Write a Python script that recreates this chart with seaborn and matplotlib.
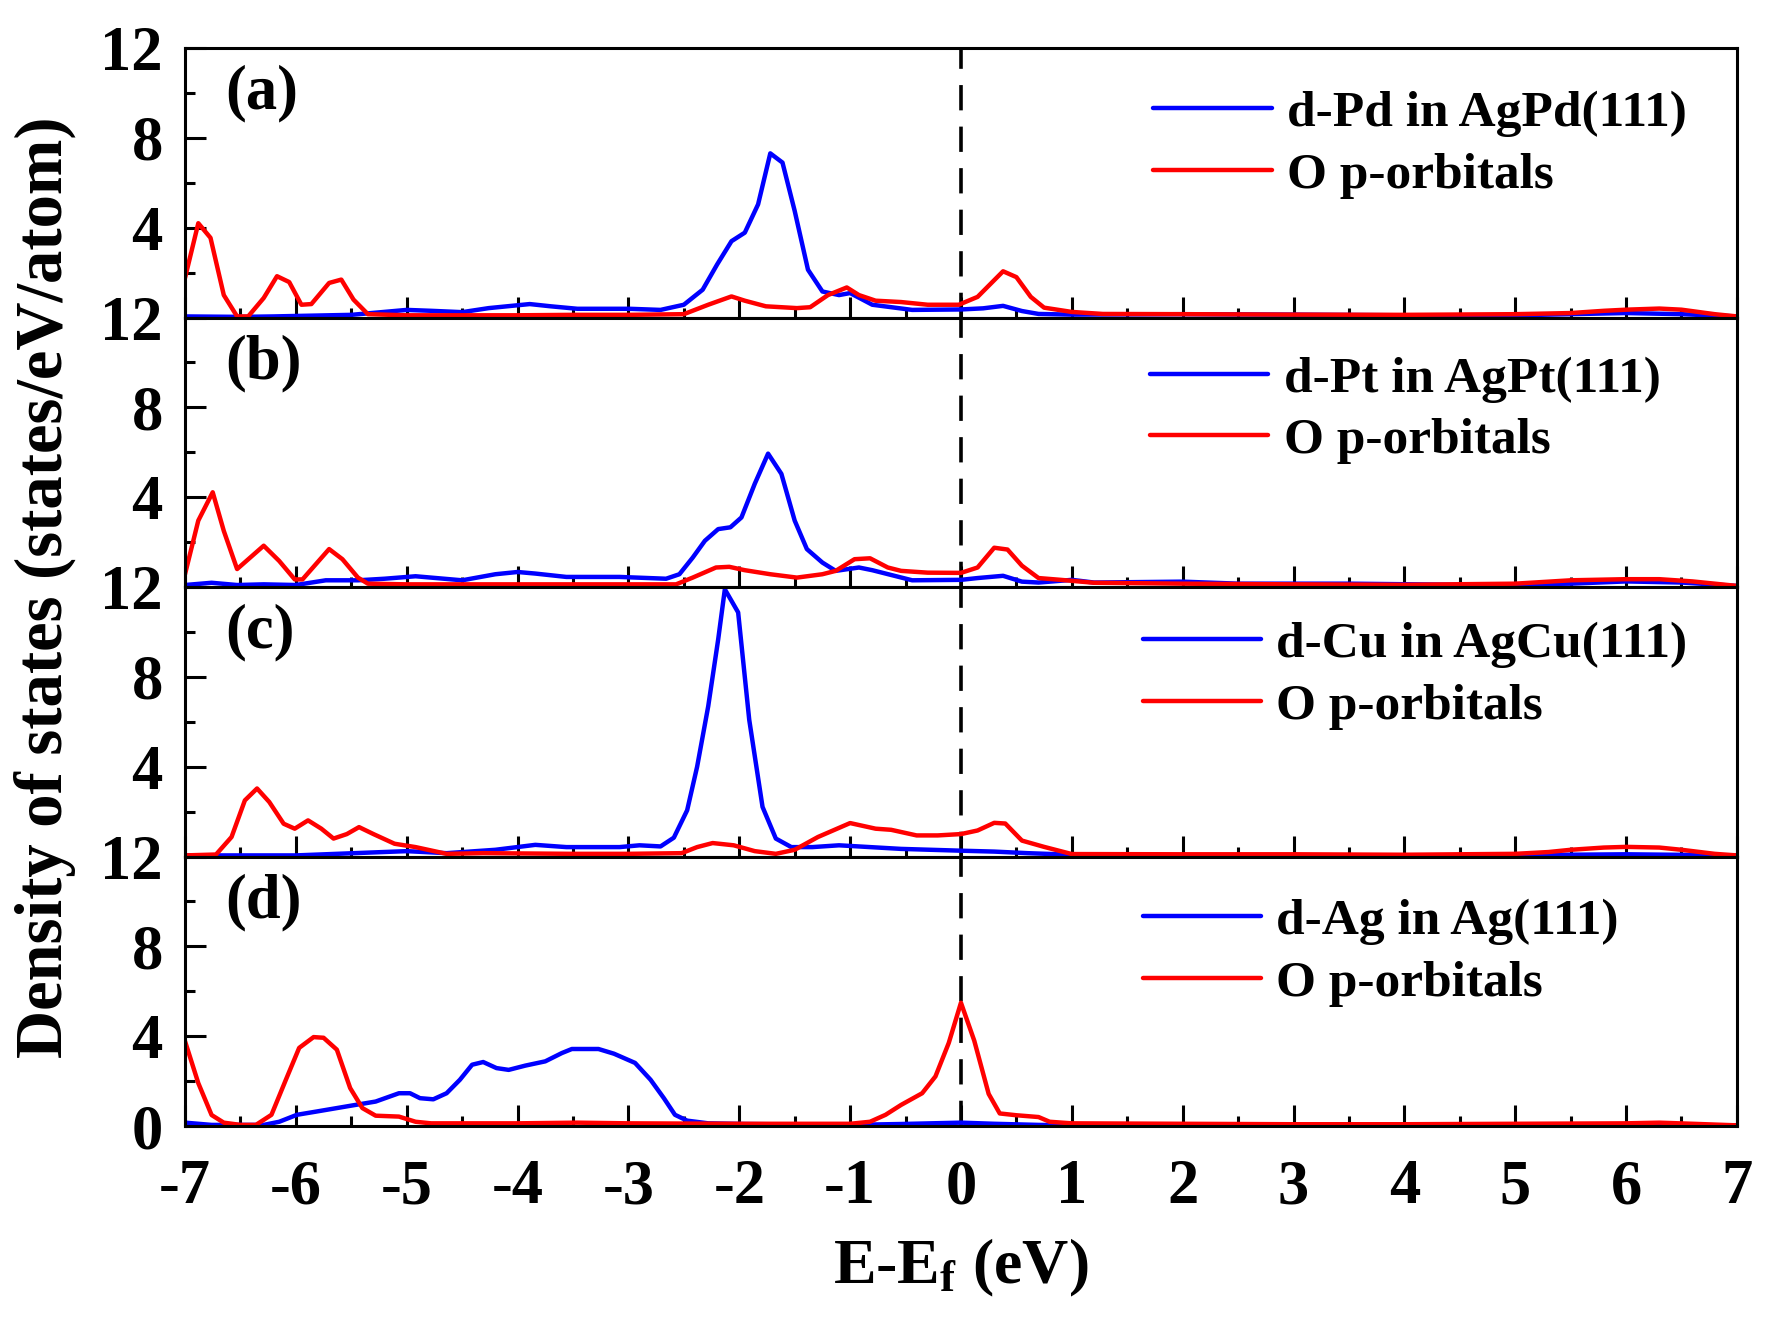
import numpy as np
import pandas as pd
import matplotlib
matplotlib.use("Agg")
import matplotlib.pyplot as plt
import seaborn as sns
from matplotlib.ticker import MultipleLocator, FixedLocator, FixedFormatter

# ---------------- data ----------------
panel_tags = ["(a)", "(b)", "(c)", "(d)"]
metal_labels = ["d-Pd in AgPd(111)", "d-Pt in AgPt(111)",
                "d-Cu in AgCu(111)", "d-Ag in Ag(111)"]
oxygen_label = "O p-orbitals"

x_ticks = [-7, -6, -5, -4, -3, -2, -1, 0, 1, 2, 3, 4, 5, 6, 7]
y_ticks = [0, 4, 8, 12]

# panel (a)
a_d_x = [-7.0, -6.5, -6.2, -5.5, -5.0, -4.78, -4.5, -4.26, -3.89, -3.7, -3.46, -2.99, -2.71, -2.5,
         -2.33, -2.2, -2.07, -1.95, -1.83, -1.72, -1.61, -1.5, -1.38, -1.25, -1.1, -1.0, -0.8, -0.44,
         0.0, 0.2, 0.38, 0.55, 0.7, 1.0, 2.0, 3.0, 4.0, 5.0, 6.0, 6.5, 7.0]
a_d_y = [0.05, 0.03, 0.05, 0.12, 0.34, 0.3, 0.24, 0.42, 0.6, 0.5, 0.39, 0.39, 0.34, 0.57,
         1.24, 2.36, 3.4, 3.78, 5.04, 7.31, 6.9, 4.75, 2.13, 1.16, 1.0, 1.09, 0.57, 0.34,
         0.36, 0.41, 0.52, 0.29, 0.16, 0.13, 0.15, 0.13, 0.1, 0.1, 0.2, 0.15, 0.05]
a_o_x = [-7.0, -6.88, -6.77, -6.65, -6.53, -6.43, -6.29, -6.17, -6.06, -5.95, -5.86, -5.70, -5.59,
         -5.48, -5.35, -5.0, -4.5, -4.0, -3.5, -3.0, -2.5, -2.28, -2.07, -1.95, -1.76, -1.48, -1.36,
         -1.20, -1.03, -0.92, -0.77, -0.54, -0.30, -0.02, 0.15, 0.38, 0.50, 0.63, 0.75, 1.0, 1.28,
         2.0, 3.0, 4.0, 5.0, 5.5, 5.8, 6.0, 6.3, 6.5, 6.8, 7.0]
a_o_y = [1.76, 4.2, 3.55, 1.0, 0.05, 0.05, 0.87, 1.84, 1.58, 0.57, 0.6, 1.54, 1.69,
         0.8, 0.15, 0.1, 0.1, 0.1, 0.12, 0.12, 0.15, 0.57, 0.94, 0.75, 0.5, 0.42, 0.46,
         1.0, 1.34, 1.0, 0.75, 0.69, 0.57, 0.57, 0.92, 2.06, 1.8, 0.92, 0.44, 0.25, 0.16,
         0.15, 0.13, 0.12, 0.15, 0.2, 0.3, 0.35, 0.4, 0.35, 0.15, 0.05]

# panel (b)
b_d_x = [-7.0, -6.76, -6.53, -6.29, -6.0, -5.73, -5.44, -5.2, -4.92, -4.5, -4.2, -4.0, -3.84, -3.56,
         -3.08, -2.66, -2.54, -2.42, -2.31, -2.19, -2.08, -1.98, -1.86, -1.74, -1.62, -1.5, -1.39,
         -1.25, -1.13, -0.92, -0.8, -0.44, 0.0, 0.15, 0.38, 0.55, 0.7, 1.0, 1.2, 2.0, 2.5, 3.5,
         4.5, 5.5, 6.0, 6.5, 7.0]
b_d_y = [0.09, 0.19, 0.09, 0.12, 0.09, 0.3, 0.3, 0.37, 0.48, 0.3, 0.57, 0.67, 0.6, 0.45,
         0.45, 0.37, 0.57, 1.31, 2.06, 2.58, 2.66, 3.1, 4.6, 5.94, 5.04, 2.96, 1.69,
         1.09, 0.72, 0.87, 0.75, 0.3, 0.32, 0.4, 0.5, 0.24, 0.2, 0.32, 0.2, 0.24, 0.15, 0.15,
         0.1, 0.15, 0.25, 0.2, 0.05]
b_o_x = [-7.0, -6.88, -6.75, -6.65, -6.53, -6.29, -6.15, -6.01, -5.94, -5.70, -5.58, -5.44, -5.35,
         -5.0, -4.5, -4.0, -3.5, -3.0, -2.57, -2.42, -2.21, -2.09, -1.95, -1.72, -1.48, -1.25,
         -1.13, -0.96, -0.82, -0.66, -0.54, -0.30, 0.0, 0.15, 0.30, 0.42, 0.55, 0.70, 0.90, 1.2,
         2.0, 3.0, 4.0, 5.0, 5.5, 6.0, 6.3, 6.6, 7.0]
b_o_y = [0.57, 2.96, 4.22, 2.5, 0.8, 1.84, 1.16, 0.34, 0.34, 1.69, 1.24, 0.42, 0.15,
         0.12, 0.12, 0.12, 0.12, 0.12, 0.12, 0.42, 0.87, 0.9, 0.75, 0.57, 0.42, 0.57,
         0.72, 1.24, 1.28, 0.87, 0.72, 0.64, 0.63, 0.87, 1.75, 1.67, 0.95, 0.4, 0.32, 0.19,
         0.15, 0.12, 0.1, 0.15, 0.3, 0.35, 0.35, 0.25, 0.05]

# panel (c)
c_d_x = [-7.0, -6.5, -6.0, -5.0, -4.64, -4.2, -3.84, -3.56, -3.08, -2.9, -2.71, -2.59, -2.47, -2.38,
         -2.28, -2.19, -2.13, -2.01, -1.91, -1.79, -1.67, -1.53, -1.34, -1.1, -0.82, -0.54, 0.0,
         0.3, 0.6, 1.0, 2.0, 4.0, 5.5, 6.0, 7.0]
c_d_y = [0.05, 0.05, 0.05, 0.24, 0.15, 0.3, 0.52, 0.42, 0.42, 0.5, 0.45, 0.84, 2.06, 4.0,
         6.69, 9.67, 11.9, 10.87, 6.09, 2.21, 0.8, 0.42, 0.42, 0.5, 0.42, 0.34, 0.26,
         0.22, 0.15, 0.08, 0.06, 0.05, 0.08, 0.1, 0.05]
c_o_x = [-7.0, -6.72, -6.58, -6.46, -6.35, -6.24, -6.11, -6.01, -5.89, -5.77, -5.66, -5.54, -5.43,
         -5.30, -5.11, -4.92, -4.64, -4.31, -3.5, -3.0, -2.52, -2.38, -2.24, -2.05, -1.86, -1.67,
         -1.5, -1.29, -1.0, -0.77, -0.63, -0.40, -0.21, 0.0, 0.15, 0.30, 0.40, 0.55, 0.75, 1.0,
         2.0, 3.0, 4.0, 5.0, 5.3, 5.5, 5.8, 6.0, 6.3, 6.5, 6.8, 7.0]
c_o_y = [0.05, 0.09, 0.87, 2.5, 3.03, 2.43, 1.46, 1.24, 1.61, 1.24, 0.8, 1.0, 1.31,
         1.0, 0.57, 0.42, 0.12, 0.15, 0.12, 0.12, 0.15, 0.42, 0.6, 0.5, 0.24, 0.12,
         0.3, 0.87, 1.49, 1.24, 1.19, 0.94, 0.94, 1.0, 1.16, 1.5, 1.47, 0.71, 0.43, 0.11,
         0.1, 0.1, 0.08, 0.12, 0.2, 0.3, 0.4, 0.43, 0.4, 0.3, 0.12, 0.05]

# panel (d)
d_d_x = [-7.0, -6.76, -6.29, -6.15, -5.99, -5.82, -5.51, -5.28, -5.07, -4.97, -4.88, -4.76, -4.64,
         -4.52, -4.41, -4.31, -4.19, -4.08, -3.93, -3.75, -3.6, -3.51, -3.27, -3.13, -2.94, -2.8,
         -2.68, -2.58, -2.47, -2.28, -1.95, -1.0, -0.54, 0.0, 0.3, 0.7, 1.0, 7.0]
d_d_y = [0.15, 0.05, 0.05, 0.19, 0.5, 0.64, 0.9, 1.09, 1.46, 1.46, 1.24, 1.19, 1.46,
         2.06, 2.73, 2.85, 2.58, 2.5, 2.69, 2.88, 3.25, 3.43, 3.43, 3.22, 2.81, 2.06,
         1.24, 0.5, 0.24, 0.12, 0.09, 0.05, 0.09, 0.15, 0.1, 0.05, 0.03, 0.03]
d_o_x = [-7.0, -6.88, -6.76, -6.65, -6.5, -6.36, -6.22, -6.09, -5.97, -5.84, -5.75, -5.63, -5.51,
         -5.40, -5.28, -5.07, -4.92, -4.78, -4.0, -3.46, -3.0, -2.0, -1.0, -0.82, -0.68, -0.54,
         -0.35, -0.23, -0.11, 0.0, 0.12, 0.25, 0.35, 0.5, 0.7, 0.8, 1.0, 2.0, 3.0, 4.0, 5.0,
         6.0, 6.3, 6.6, 7.0]
d_o_y = [3.78, 1.91, 0.49, 0.15, 0.05, 0.05, 0.5, 2.06, 3.48, 3.96, 3.93, 3.4, 1.69,
         0.8, 0.46, 0.42, 0.19, 0.12, 0.12, 0.15, 0.12, 0.1, 0.1, 0.19, 0.5, 0.94,
         1.46, 2.21, 3.7, 5.49, 3.8, 1.43, 0.56, 0.48, 0.4, 0.19, 0.12, 0.1, 0.08, 0.08, 0.1,
         0.12, 0.15, 0.1, 0.03]

metal_series = [(a_d_x, a_d_y), (b_d_x, b_d_y), (c_d_x, c_d_y), (d_d_x, d_d_y)]
oxygen_series = [(a_o_x, a_o_y), (b_o_x, b_o_y), (c_o_x, c_o_y), (d_o_x, d_o_y)]

# ---------------- style ----------------
sns.set_style("ticks", {"xtick.direction": "in", "ytick.direction": "in"})
plt.rcParams["font.family"] = ["Liberation Serif", "DejaVu Serif"]
plt.rcParams["font.weight"] = "bold"
plt.rcParams["mathtext.fontset"] = "custom"
plt.rcParams["mathtext.rm"] = "Liberation Serif:bold"
plt.rcParams["mathtext.it"] = "Liberation Serif:bold"
plt.rcParams["mathtext.bf"] = "Liberation Serif:bold"
plt.rcParams["axes.unicode_minus"] = False
for key in ["text.color", "axes.labelcolor", "xtick.color", "ytick.color", "axes.edgecolor"]:
    plt.rcParams[key] = "black"

BLUE = "#0000FF"
RED = "#FF0000"
TICK_FS = 45
LEG_FS = 37
LW = 3.2

fig = plt.figure(figsize=(17.72, 13.31), dpi=100)
gs = fig.add_gridspec(4, 1, left=0.1044, right=0.9802, top=0.9639, bottom=0.154, hspace=0)
axes = [fig.add_subplot(gs[i]) for i in range(4)]

legend_y = [0.845, 0.859, 0.874, 0.845]
legend_x = [0.624, 0.622, 0.617, 0.617]

for i, ax in enumerate(axes):
    mx, my = metal_series[i]
    ox, oy = oxygen_series[i]
    dfm = pd.DataFrame({"E": mx, "DOS": my})
    dfo = pd.DataFrame({"E": ox, "DOS": oy})
    sns.lineplot(data=dfm, x="E", y="DOS", color=BLUE, lw=LW, ax=ax, label=metal_labels[i])
    sns.lineplot(data=dfo, x="E", y="DOS", color=RED, lw=LW, ax=ax, label=oxygen_label)
    ax.axvline(0, color="black", lw=2.6, ls=(0, (7, 4.5)), zorder=1)

    ax.set_xlim(-7, 7)
    ax.set_ylim(0, 12)
    ax.set_xlabel("")
    ax.set_ylabel("")

    ax.xaxis.set_major_locator(FixedLocator(x_ticks))
    ax.xaxis.set_minor_locator(MultipleLocator(0.5))
    ax.yaxis.set_major_locator(FixedLocator(y_ticks))
    ax.yaxis.set_minor_locator(MultipleLocator(2))
    ylabels = [str(v) for v in y_ticks]
    if i < 3:
        ylabels[0] = ""
    ax.yaxis.set_major_formatter(FixedFormatter(ylabels))
    ax.tick_params(axis="both", which="major", length=15, width=2.2, labelsize=TICK_FS,
                   direction="in", top=False, right=False, colors="black")
    ax.tick_params(axis="both", which="minor", length=7, width=2.2,
                   direction="in", top=False, right=False, colors="black")
    ax.tick_params(axis="y", which="major", pad=16)
    ax.tick_params(axis="x", which="major", pad=24)
    if i < 3:
        ax.tick_params(axis="x", which="both", labelbottom=False)
    for lab in ax.get_xticklabels() + ax.get_yticklabels():
        lab.set_fontweight("bold")
    for sp in ax.spines.values():
        sp.set_linewidth(2.2)
        sp.set_color("black")
        sp.set_visible(True)

    leg = ax.legend(loc="upper left", bbox_to_anchor=(legend_x[i], legend_y[i]),
                    frameon=False, handlelength=2.3, handletextpad=0.3,
                    labelspacing=0.29, borderpad=0, borderaxespad=0,
                    prop={"weight": "bold", "size": LEG_FS})
    for h in leg.get_lines():
        h.set_linewidth(3.2)
    for t in leg.get_texts():
        t.set_color("black")

    ax.text(0.026, 0.83, panel_tags[i], transform=ax.transAxes, fontsize=TICK_FS,
            fontweight="bold", ha="left", va="center", color="black")

fig.text(0.0254, 0.559, "Density of states (states/eV/atom)", rotation=90,
         ha="center", va="center", fontsize=48, fontweight="bold", color="black")
fig.text(0.542, 0.047, r"E-E$_\mathrm{f}$ (eV)", ha="center", va="center",
         fontsize=46, fontweight="bold", color="black")

fig.savefig("out.png", dpi=100)
